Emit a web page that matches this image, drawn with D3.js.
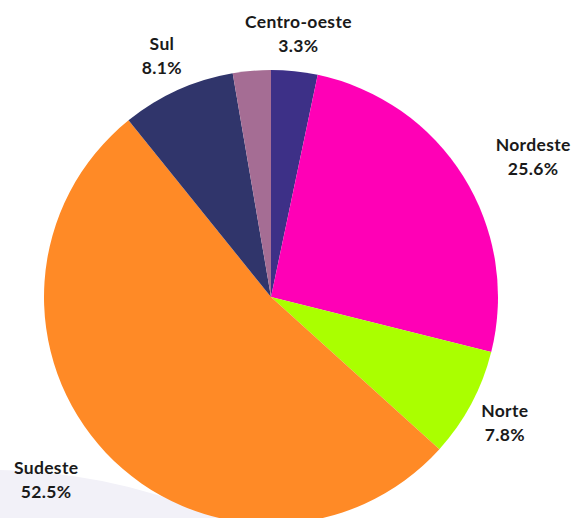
<!DOCTYPE html>
<html>
<head>
<meta charset="utf-8">
<script src="https://cdn.jsdelivr.net/npm/d3@7"></script>
<style>
  html, body { margin: 0; padding: 0; background: #ffffff; }
  svg { display: block; }
  text { font-family: Lato, "Noto Sans", sans-serif; font-weight: 700; fill: #1a1a1a; letter-spacing: 0.35px; }
</style>
</head>
<body>
<svg id="chart" width="575" height="518"></svg>
<script>
// Data (clockwise from 12 o'clock)
const categories = ["Centro-oeste", "Nordeste", "Norte", "Sudeste", "Sul", ""];
const values     = [3.3, 25.6, 7.8, 52.5, 8.1, 2.7];
const colors     = ["#3d3087", "#ff00b6", "#aaff00", "#ff8a26", "#30356b", "#a56d94"];

const W = 575, H = 518;
const cx = 271, cy = 297, R = 227, labelR = 265;

const svg = d3.select("#chart");

// decorative background blob (bottom-left)
svg.append("circle")
  .attr("cx", -10).attr("cy", 1044).attr("r", 574)
  .attr("fill", "#f2f1f8");

const data = categories.map((c, i) => ({ name: c, value: values[i], color: colors[i] }));

const pie = d3.pie().value(d => d.value).sort(null);
const arcs = pie(data);
const arc = d3.arc().innerRadius(0).outerRadius(R);
const labelArc = d3.arc().innerRadius(labelR).outerRadius(labelR);

const g = svg.append("g").attr("transform", `translate(${cx},${cy})`);

g.selectAll("path.slice")
  .data(arcs)
  .join("path")
  .attr("class", "slice")
  .attr("d", arc)
  .attr("fill", d => d.data.color);

const fmt = d3.format(".1f");
const lab = g.selectAll("g.lbl")
  .data(arcs.filter(d => d.data.name))
  .join("g")
  .attr("class", "lbl");

const txt = lab.append("text")
  .attr("font-size", 17.5)
  .attr("text-anchor", "middle");
txt.append("tspan").attr("x", 0).attr("y", -5).text(d => d.data.name);
txt.append("tspan").attr("x", 0).attr("y", 19).text(d => fmt(d.data.value) + "%");

// place each label block: centred lines; big slices anchor block edge at label point
lab.each(function(d) {
  const [x, y] = labelArc.centroid(d);
  const w = this.querySelector("text").getBBox().width;
  let dx = 0;
  if (d.data.value >= 20) {
    const mid = (d.startAngle + d.endAngle) / 2;
    dx = mid < Math.PI ? w / 2 : -w / 2;
  }
  d3.select(this).attr("transform", `translate(${x + dx},${y})`);
});
</script>
</body>
</html>
